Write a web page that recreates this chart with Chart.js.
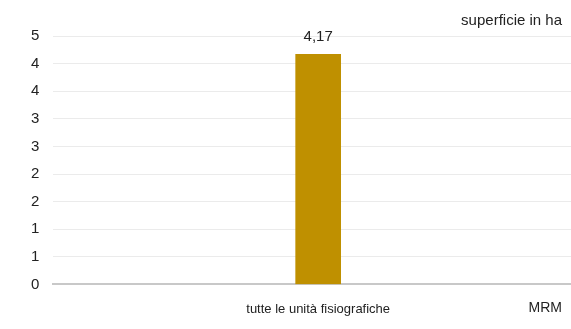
<!DOCTYPE html>
<html lang="it">
<head>
    <meta charset="UTF-8">
    <title>Superficie in ha</title>
    <script src="https://cdn.jsdelivr.net/npm/chart.js"></script>
    <style>
      html, body { margin: 0; padding: 0; overflow: hidden; background: #fff; }
    </style>
</head>
<body>
    <canvas id="barChart" width="583" height="329"></canvas>

    <script>
      // chart data
      const categories = ['tutte le unità fisiografiche'];
      const superficie = [4.17];
      const unitLabel = 'superficie in ha';
      const groupLabel = 'MRM';

      const fontFamily = '"Liberation Sans Narrow", "Liberation Sans", Arial, sans-serif';

      // writes the value over each bar plus the unit and group text
      const labelPlugin = {
        id: 'labelPlugin',
        afterDatasetsDraw(chart) {
          const ctx = chart.ctx;
          ctx.save();
          ctx.fillStyle = '#222';
          ctx.font = '15px ' + fontFamily;

          const meta = chart.getDatasetMeta(0);
          meta.data.forEach((bar, i) => {
            const txt = superficie[i].toFixed(2).replace('.', ',');
            ctx.textAlign = 'center';
            ctx.textBaseline = 'bottom';
            ctx.fillText(txt, bar.x, bar.y - 10);
          });

          ctx.textAlign = 'right';
          ctx.textBaseline = 'middle';
          ctx.fillText(unitLabel, 562, 21);
          ctx.font = '14px ' + fontFamily;
          ctx.fillText(groupLabel, 562, 308);
          ctx.restore();
        }
      };

      new Chart(document.getElementById('barChart'), {
        type: 'bar',
        data: {
          labels: categories,
          datasets: [{
            label: unitLabel,
            data: superficie,
            backgroundColor: '#BF9000',
            barThickness: 45
          }]
        },
        options: {
          responsive: false,
          animation: false,
          devicePixelRatio: 1,
          layout: {
            padding: { left: 17, right: 0, top: 36, bottom: 3 }
          },
          plugins: {
            legend: { display: false },
            tooltip: { enabled: false }
          },
          scales: {
            x: {
              grid: { display: false },
              border: { color: '#c8c8c8', width: 2 },
              ticks: {
                color: '#222',
                font: { family: fontFamily, size: 13 },
                padding: 9,
                maxRotation: 0
              }
            },
            y: {
              min: 0,
              max: 4.5,
              border: { display: false },
              grid: {
                color: '#ebebeb',
                drawTicks: false
              },
              ticks: {
                stepSize: 0.5,
                color: '#222',
                font: { family: fontFamily, size: 15 },
                padding: 14,
                callback: (v) => Math.round(v)
              }
            }
          }
        },
        plugins: [labelPlugin]
      });
    </script>
</body>
</html>
